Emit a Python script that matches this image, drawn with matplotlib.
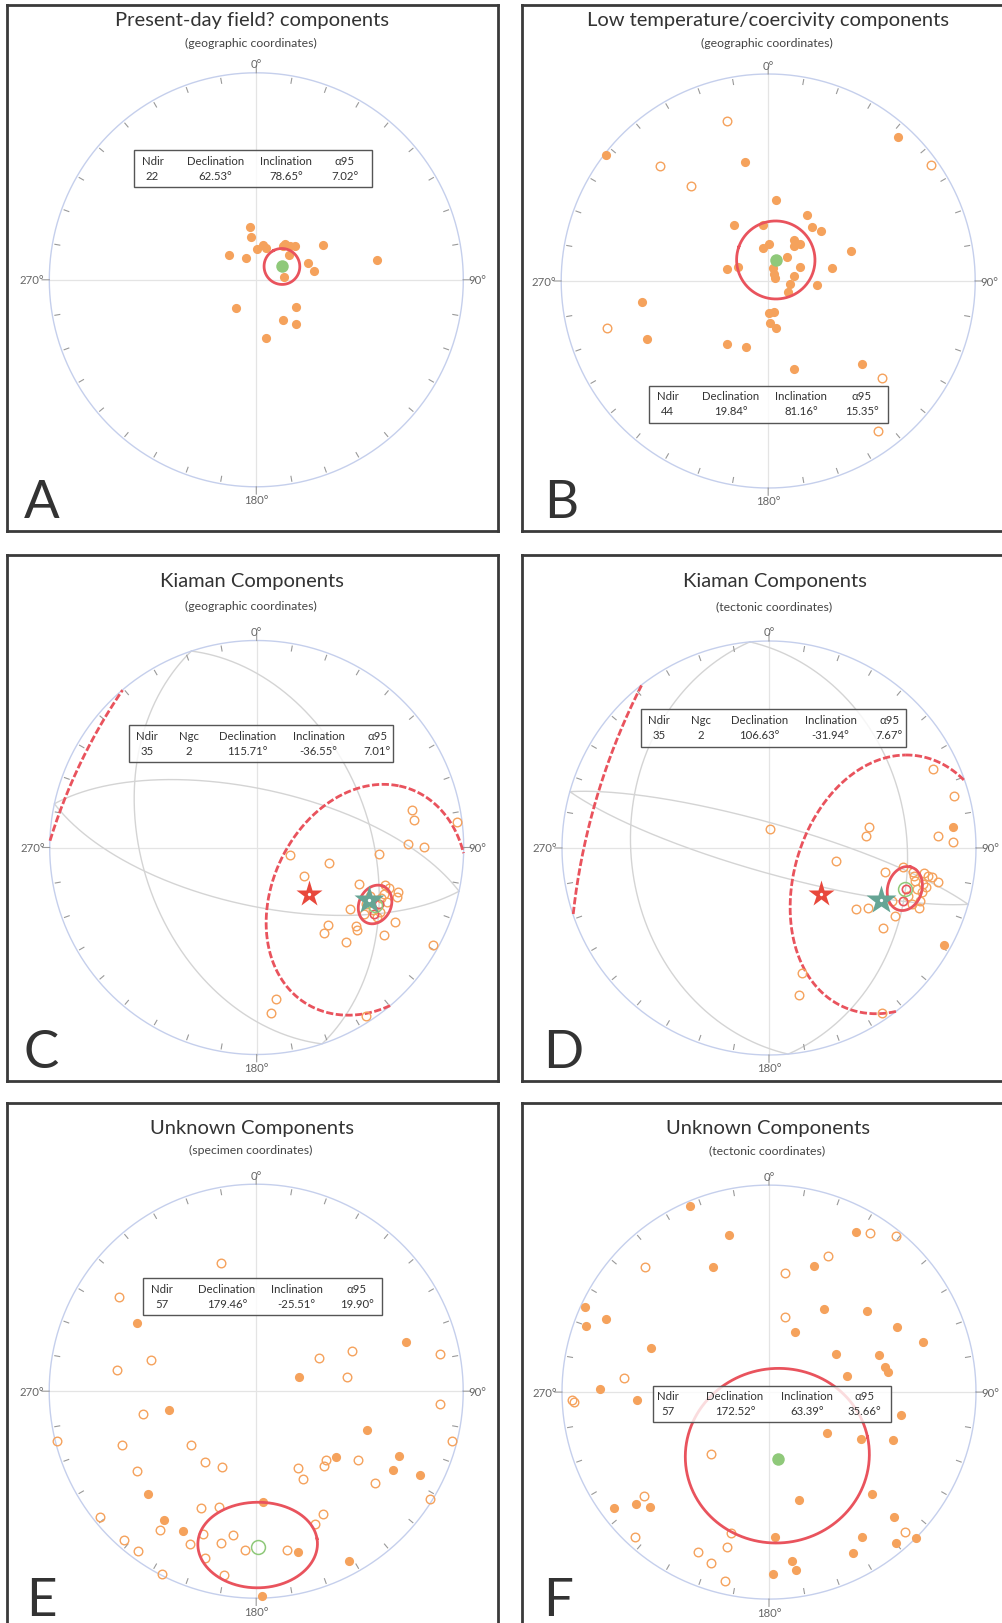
import numpy as np
import matplotlib.pyplot as plt
from matplotlib.patches import Rectangle

plt.rcParams['font.family'] = ['Lato', 'DejaVu Sans']

W, H = 1003, 1624
R = 207.0

ORANGE = '#f5a25c'
GREEN = '#8fc97a'
RED = '#e9535d'
STAR_RED = '#e8483c'
STAR_TEAL = '#66a595'
RIM = '#c5cfec'
CROSS = '#e4e4e4'
GC = '#d4d4d4'
INK = '#333333'

# ---- directions, equal-area net coordinates (east, north), primitive radius 1 ----
# A: present-day field, geographic
a_fill_e = [-0.031, -0.024, -0.134, -0.050, 0.005, 0.034, 0.045, 0.128, 0.141, 0.163, 0.186,
            0.158, 0.323, 0.582, 0.249, 0.278, 0.132, -0.100, 0.194, 0.129, 0.194, 0.045]
a_fill_n = [0.256, 0.207, 0.122, 0.104, 0.149, 0.167, 0.152, 0.162, 0.173, 0.165, 0.162,
            0.122, 0.167, 0.094, 0.082, 0.042, 0.012, -0.137, -0.132, -0.192, -0.215, -0.281]
a_mean = (62.53, 78.65, 7.02)   # declination, inclination, a95
a_ndir = 22

# B: low temperature / coercivity, geographic
b_fill_e = [-0.785, -0.110, 0.626, 0.039, 0.188, -0.163, -0.023, 0.214, 0.254, 0.123, 0.126,
            0.152, 0.006, -0.025, 0.402, 0.089, -0.198, -0.144, 0.155, 0.307, 0.022, 0.026,
            0.031, 0.124, 0.105, 0.238, 0.094, -0.610, 0.004, 0.026, 0.010, 0.036, -0.586,
            -0.198, -0.108, 0.124, 0.453]
b_fill_n = [0.610, 0.575, 0.695, 0.391, 0.320, 0.270, 0.269, 0.262, 0.240, 0.197, 0.171,
            0.181, 0.181, 0.158, 0.146, 0.118, 0.056, 0.068, 0.066, 0.061, 0.065, 0.035,
            0.015, 0.022, -0.013, -0.018, -0.055, -0.103, -0.156, -0.148, -0.202, -0.229,
            -0.279, -0.302, -0.318, -0.425, -0.403]
b_open_e = [-0.198, -0.522, -0.373, 0.788, -0.780, 0.548, 0.532]
b_open_n = [0.774, 0.556, 0.461, 0.562, -0.229, -0.468, -0.723]
b_mean = (19.84, 81.16, 15.35)
b_ndir = 44

# C: Kiaman, geographic
c_open_e = [0.750, 0.758, 0.968, 0.732, 0.810, 0.161, 0.347, 0.592, 0.229, 0.494, 0.618, 0.637,
            0.685, 0.677, 0.452, 0.516, 0.669, 0.344, 0.326, 0.481, 0.484, 0.613, 0.432, 0.852,
            0.094, 0.069, 0.529, 0.545, 0.600, 0.630, 0.560, 0.595, 0.530, 0.615, 0.580]
c_open_n = [0.183, 0.133, 0.121, 0.018, 0.003, -0.034, -0.076, -0.029, -0.136, -0.178, -0.183,
            -0.197, -0.217, -0.238, -0.297, -0.322, -0.361, -0.374, -0.411, -0.381, -0.397,
            -0.423, -0.458, -0.470, -0.734, -0.799, -0.813, -0.235, -0.245, -0.265, -0.300,
            -0.310, -0.275, -0.225, -0.335]
c_planes = [(251.6, 44.0), (12.2, 67.0)]      # dip direction, dip
c_mean = (115.71, -36.55, 7.01)
c_cone = 42.8
c_ndir, c_ngc = 35, 2
c_star_red = (131.2, 62.3)
c_star_teal = (115.1, 40.1)

# D: Kiaman, tectonic
d_fill_e = [0.889, 0.844]
d_fill_n = [0.100, -0.469]
d_open_e = [0.791, 0.894, 0.485, 0.469, 0.816, 0.889, 0.006, 0.324, 0.562, 0.646, 0.747, 0.767,
            0.815, 0.422, 0.480, 0.609, 0.552, 0.159, 0.147, 0.546, 0.697, 0.786, 0.705, 0.745,
            0.738, 0.729, 0.689, 0.593, 0.715, 0.672, 0.760, 0.700, 0.725]
d_open_n = [0.381, 0.250, 0.100, 0.060, 0.060, 0.028, 0.090, -0.065, -0.117, -0.093, -0.122,
            -0.135, -0.164, -0.294, -0.289, -0.327, -0.386, -0.604, -0.708, -0.795, -0.117,
            -0.142, -0.158, -0.174, -0.214, -0.254, -0.271, -0.254, -0.200, -0.232, -0.190,
            -0.135, -0.290]
d_planes = [(264.7, 33.7), (15.8, 80.3)]
d_mean = (106.63, -31.94, 7.67)
d_cone = 46.3
d_ndir, d_ngc = 35, 2
d_star_red = (131.6, 62.5)
d_star_teal = (115.1, 40.1)

# E: unknown, specimen
e_fill_e = [-0.574, 0.208, 0.725, -0.422, 0.537, 0.384, 0.689, 0.662, 0.791, -0.524, -0.445,
            -0.355, 0.035, 0.204, 0.450, 0.030]
e_fill_n = [0.330, 0.071, 0.240, -0.093, -0.187, -0.317, -0.312, -0.380, -0.406, -0.495, -0.620,
            -0.675, -0.534, -0.778, -0.818, -0.989]
e_open_e = [-0.170, -0.662, -0.508, -0.673, 0.303, 0.461, 0.437, 0.889, 0.889, -0.548, -0.960,
            -0.646, -0.315, 0.944, -0.249, -0.165, -0.574, 0.204, 0.337, 0.327, 0.492, 0.228,
            0.572, 0.841, -0.266, -0.181, 0.323, 0.282, -0.754, -0.464, -0.258, -0.113, -0.319,
            -0.170, -0.054, 0.147, -0.247, -0.641, -0.569, -0.455, -0.155]
e_open_n = [0.619, 0.455, 0.151, 0.102, 0.161, 0.196, 0.071, 0.180, -0.062, -0.112, -0.242,
            -0.261, -0.258, -0.242, -0.341, -0.365, -0.385, -0.370, -0.334, -0.360, -0.331,
            -0.425, -0.445, -0.520, -0.563, -0.560, -0.591, -0.643, -0.610, -0.669, -0.688,
            -0.693, -0.740, -0.734, -0.765, -0.769, -0.804, -0.721, -0.773, -0.883, -0.888]
e_mean = (179.46, -25.51, 19.90)
e_ndir = 57

# F: unknown, tectonic
f_fill_e = [-0.383, -0.193, -0.269, 0.421, 0.215, -0.887, -0.786, -0.885, -0.568, 0.264, 0.474,
            0.125, 0.618, 0.743, 0.325, 0.532, 0.560, 0.573, 0.375, -0.816, -0.638, 0.638,
            0.280, 0.443, 0.599, 0.146, 0.498, -0.751, -0.642, -0.576, 0.604, 0.448, 0.029,
            0.613, 0.709, 0.405, 0.110, 0.129, 0.021]
f_fill_n = [0.897, 0.757, 0.604, 0.773, 0.607, 0.410, 0.355, 0.320, 0.211, 0.400, 0.390, 0.289,
            0.315, 0.240, 0.182, 0.177, 0.123, 0.097, 0.076, 0.017, -0.038, -0.112, -0.196,
            -0.226, -0.231, -0.519, -0.490, -0.560, -0.540, -0.553, -0.604, -0.698, -0.698,
            -0.728, -0.703, -0.778, -0.818, -0.858, -0.878]
f_open_e = [-0.597, 0.079, 0.286, 0.489, 0.613, 0.079, -0.702, -0.953, -0.940, -0.278, -0.605,
            -0.184, -0.647, -0.204, -0.343, -0.278, -0.214, 0.659]
f_open_n = [0.604, 0.575, 0.659, 0.769, 0.752, 0.361, 0.068, -0.040, -0.046, -0.301, -0.503,
            -0.681, -0.698, -0.749, -0.774, -0.827, -0.912, -0.674]
f_mean = (172.52, 63.39, 35.66)
f_ndir = 57


# ---- equal-area helpers ----
def dir_vec(dec, inc):
    d, i = np.radians(dec), np.radians(inc)
    return np.array([np.cos(i) * np.cos(d), np.cos(i) * np.sin(d), np.sin(i)])


def eq_area(v):
    n, e, d = np.asarray(v, float)
    s = 1.0 / np.sqrt(1.0 + np.abs(d))
    return e * s, n * s


def cone(c, a, num=721):
    c = c / np.linalg.norm(c)
    u = np.cross(c, [0.0, 0.0, 1.0])
    if np.linalg.norm(u) < 1e-6:
        u = np.array([1.0, 0.0, 0.0])
    u /= np.linalg.norm(u)
    w = np.cross(c, u)
    t = np.linspace(0, 2 * np.pi, num)
    a = np.radians(a)
    return (np.cos(a) * c[:, None]
            + np.sin(a) * (np.cos(t) * u[:, None] + np.sin(t) * w[:, None]))


def plane_pole(dip_dir, dip):
    return dir_vec(dip_dir + 180.0, 90.0 - dip)


def plot_axial(ax, pts, **kw):
    neg = pts[2] < 0
    p = np.where(neg, -pts, pts)
    x, y = eq_area(p)
    cuts = np.flatnonzero(np.diff(neg.astype(int))) + 1
    for seg in np.split(np.arange(len(x)), cuts):
        if len(seg) > 1:
            ax.plot(x[seg], y[seg], **kw)


def fx(x):
    return x / W


def fy(y):
    return 1 - y / H


fig = plt.figure(figsize=(W / 100, H / 100), dpi=100)


def add_panel(box, centre, title, subtitle, letter, letter_xy):
    l, t, r, b = box
    cx, cy = centre
    ax = fig.add_axes([l / W, 1 - b / H, (r - l) / W, (b - t) / H])
    ax.set_xlim((l - cx) / R, (r - cx) / R)
    ax.set_ylim((cy - b) / R, (cy - t) / R)
    ax.set_xticks([])
    ax.set_yticks([])
    for sp in ax.spines.values():
        sp.set_linewidth(2.0)
        sp.set_color('#3a3a3a')

    th = np.linspace(0, 2 * np.pi, 721)
    ax.plot(np.cos(th), np.sin(th), color=RIM, lw=1.0, zorder=3)
    ax.plot([-1, 1], [0, 0], color=CROSS, lw=0.9, zorder=1)
    ax.plot([0, 0], [-1, 1], color=CROSS, lw=0.9, zorder=1)
    tx, ty = [], []
    for ang in range(0, 360, 10):
        s, c = np.sin(np.radians(ang)), np.cos(np.radians(ang))
        if ang % 90 == 0:
            tx += [1.0 * s, 1.035 * s, np.nan]
            ty += [1.0 * c, 1.035 * c, np.nan]
        else:
            tx += [0.964 * s, 0.988 * s, np.nan]
            ty += [0.964 * c, 0.988 * c, np.nan]
    ax.plot(tx, ty, color='#999999', lw=0.8, zorder=3)

    kw = dict(fontsize=8.2, color='#666666', va='center')
    fig.text(fx(cx), fy(cy - 216), '0°', ha='center', **kw)
    fig.text(fx(cx), fy(cy + 220), '180°', ha='center', **kw)
    fig.text(fx(cx + 212), fy(cy), '90°', ha='left', **kw)
    fig.text(fx(cx - 212), fy(cy), '270°', ha='right', **kw)

    fig.text(fx(title[0]), fy(title[1]), title[2], ha='center', va='center',
             fontsize=14.5, color=INK)
    fig.text(fx(subtitle[0]), fy(subtitle[1]), subtitle[2], ha='center', va='center',
             fontsize=8.8, color='#444444')
    fig.text(fx(letter_xy[0]), fy(letter_xy[1]), letter, ha='left', va='baseline',
             fontsize=38, color=INK)
    return ax


def stats_box(box, hy, vy, cols, headers, values):
    l, t, r, b = box
    fig.add_artist(Rectangle((fx(l), fy(b)), (r - l) / W, (b - t) / H,
                             transform=fig.transFigure, facecolor='white', alpha=0.8,
                             edgecolor='none', zorder=1))
    fig.add_artist(Rectangle((fx(l), fy(b)), (r - l) / W, (b - t) / H,
                             transform=fig.transFigure, facecolor='none',
                             edgecolor='#555555', lw=1.0, zorder=1.1))
    for x, hdr, val in zip(cols, headers, values):
        fig.text(fx(x), fy(hy), hdr, ha='center', va='center', fontsize=8.2, color=INK)
        fig.text(fx(x), fy(vy), val, ha='center', va='center', fontsize=8.2, color=INK)


def draw_points(ax, fe, fn, oe, on):
    if fe:
        ax.plot(fe, fn, 'o', ms=6.6, color=ORANGE, mec='none', zorder=4)
    if oe:
        ax.plot(oe, on, 'o', ms=6.2, mfc='none', mec=ORANGE, mew=1.0, zorder=4)


def draw_mean(ax, mean):
    dec, inc, a95 = mean
    x, y = eq_area(cone(dir_vec(dec, inc), a95))
    ax.plot(x, y, color=RED, lw=2.0, zorder=5)
    mx, my = eq_area(dir_vec(dec, inc))
    if inc >= 0:
        ax.plot(mx, my, 'o', ms=9, color=GREEN, mec='none', zorder=6)
    else:
        ax.plot(mx, my, 'o', ms=10, mfc='none', mec=GREEN, mew=1.1, zorder=6)


def draw_kiaman(ax, planes, mean, cone_r, star_red, star_teal):
    for dd, dip in planes:
        x, y = eq_area(cone(plane_pole(dd, dip), 90.0))
        ax.plot(x, y, color=GC, lw=1.0, zorder=2)
    dec, inc, _ = mean
    plot_axial(ax, cone(dir_vec(dec, abs(inc)), cone_r), color=RED, lw=2.0,
               dashes=(2.6, 0.9), zorder=3.5)
    m = dir_vec(dec, inc)
    for dd, dip in planes:
        n = plane_pole(dd, dip)
        p = m - np.dot(m, n) * n
        px, py = eq_area(p / np.linalg.norm(p))
        ax.plot(px, py, 'o', ms=6, mfc='none', mec=RED, mew=1.2, zorder=5.5)
    for (sd, si), col, ms in ((star_red, STAR_RED, 20), (star_teal, STAR_TEAL, 22)):
        sx, sy = eq_area(dir_vec(sd, si))
        ax.plot(sx, sy, marker='*', ms=ms, color=col, mec='none', zorder=7)
        ax.plot(sx, sy, 'o', ms=2.4, color='white', mec='none', zorder=7.5)


def fmt(v):
    return f'{v:.2f}°'


HDR4 = ['Ndir', 'Declination', 'Inclination', 'α95']
HDR5 = ['Ndir', 'Ngc', 'Declination', 'Inclination', 'α95']

# A
ax = add_panel((6.7, 6, 497.7, 532), (256.3, 280.8),
               (252.3, 20.7, 'Present-day field? components'),
               (250.7, 43.7, '(geographic coordinates)'), 'A', (24, 518))
draw_points(ax, a_fill_e, a_fill_n, [], [])
draw_mean(ax, a_mean)
stats_box((134.3, 150.8, 371.7, 188.4), 161.8, 176.6, [152.5, 215.5, 286, 345], HDR4,
          [str(a_ndir), fmt(a_mean[0]), fmt(a_mean[1]), fmt(a_mean[2])])

# B
ax = add_panel((522, 6, 1012, 532), (768.2, 282),
               (767.7, 20.7, 'Low temperature/coercivity components'),
               (766.7, 43.7, '(geographic coordinates)'), 'B', (544, 518))
draw_points(ax, b_fill_e, b_fill_n, b_open_e, b_open_n)
draw_mean(ax, b_mean)
stats_box((649.3, 386.7, 887.7, 424.2), 397, 411.5, [667.5, 731, 801, 862], HDR4,
          [str(b_ndir), fmt(b_mean[0]), fmt(b_mean[1]), fmt(b_mean[2])])

# C
ax = add_panel((6.7, 556.3, 497.7, 1082.2), (256.7, 848.5),
               (252.3, 581.7, 'Kiaman Components'),
               (250.7, 606.7, '(geographic coordinates)'), 'C', (24, 1068))
draw_points(ax, [], [], c_open_e, c_open_n)
draw_kiaman(ax, c_planes, c_mean, c_cone, c_star_red, c_star_teal)
draw_mean(ax, c_mean)
stats_box((129.3, 726, 393.3, 763.1), 736.7, 751.3, [146.7, 188.7, 247.8, 318.7, 377.5], HDR5,
          [str(c_ndir), str(c_ngc), fmt(c_mean[0]), fmt(c_mean[1]), fmt(c_mean[2])])

# D
ax = add_panel((522, 556.3, 1012, 1082.2), (769, 849),
               (775.3, 581.7, 'Kiaman Components'),
               (774.3, 606.7, '(tectonic coordinates)'), 'D', (543, 1068))
draw_points(ax, d_fill_e, d_fill_n, d_open_e, d_open_n)
draw_kiaman(ax, d_planes, d_mean, d_cone, d_star_red, d_star_teal)
draw_mean(ax, d_mean)
stats_box((641, 710.3, 906, 747.5), 720.7, 735.7, [658.7, 700.7, 759.7, 830.5, 889], HDR5,
          [str(d_ndir), str(d_ngc), fmt(d_mean[0]), fmt(d_mean[1]), fmt(d_mean[2])])

# E
ax = add_panel((6.7, 1104, 497.7, 1640), (256.2, 1392.2),
               (252.3, 1128.7, 'Unknown Components'),
               (250.7, 1150.7, '(specimen coordinates)'), 'E', (26, 1616))
draw_points(ax, e_fill_e, e_fill_n, e_open_e, e_open_n)
draw_mean(ax, e_mean)
stats_box((143.3, 1278.9, 381.7, 1316.3), 1289.7, 1304.2, [161.7, 226.8, 296.7, 356.7], HDR4,
          [str(e_ndir), fmt(e_mean[0]), fmt(e_mean[1]), fmt(e_mean[2])])

# F
ax = add_panel((522, 1104, 1012, 1640), (769, 1393.1),
               (767.7, 1128.7, 'Unknown Components'),
               (766.7, 1150.7, '(tectonic coordinates)'), 'F', (543, 1616))
draw_points(ax, f_fill_e, f_fill_n, f_open_e, f_open_n)
draw_mean(ax, f_mean)
stats_box((653.3, 1386.5, 891, 1423), 1396.7, 1411.7, [667.8, 735, 807, 864.5], HDR4,
          [str(f_ndir), fmt(f_mean[0]), fmt(f_mean[1]), fmt(f_mean[2])])

fig.savefig('out.png', dpi=100)
